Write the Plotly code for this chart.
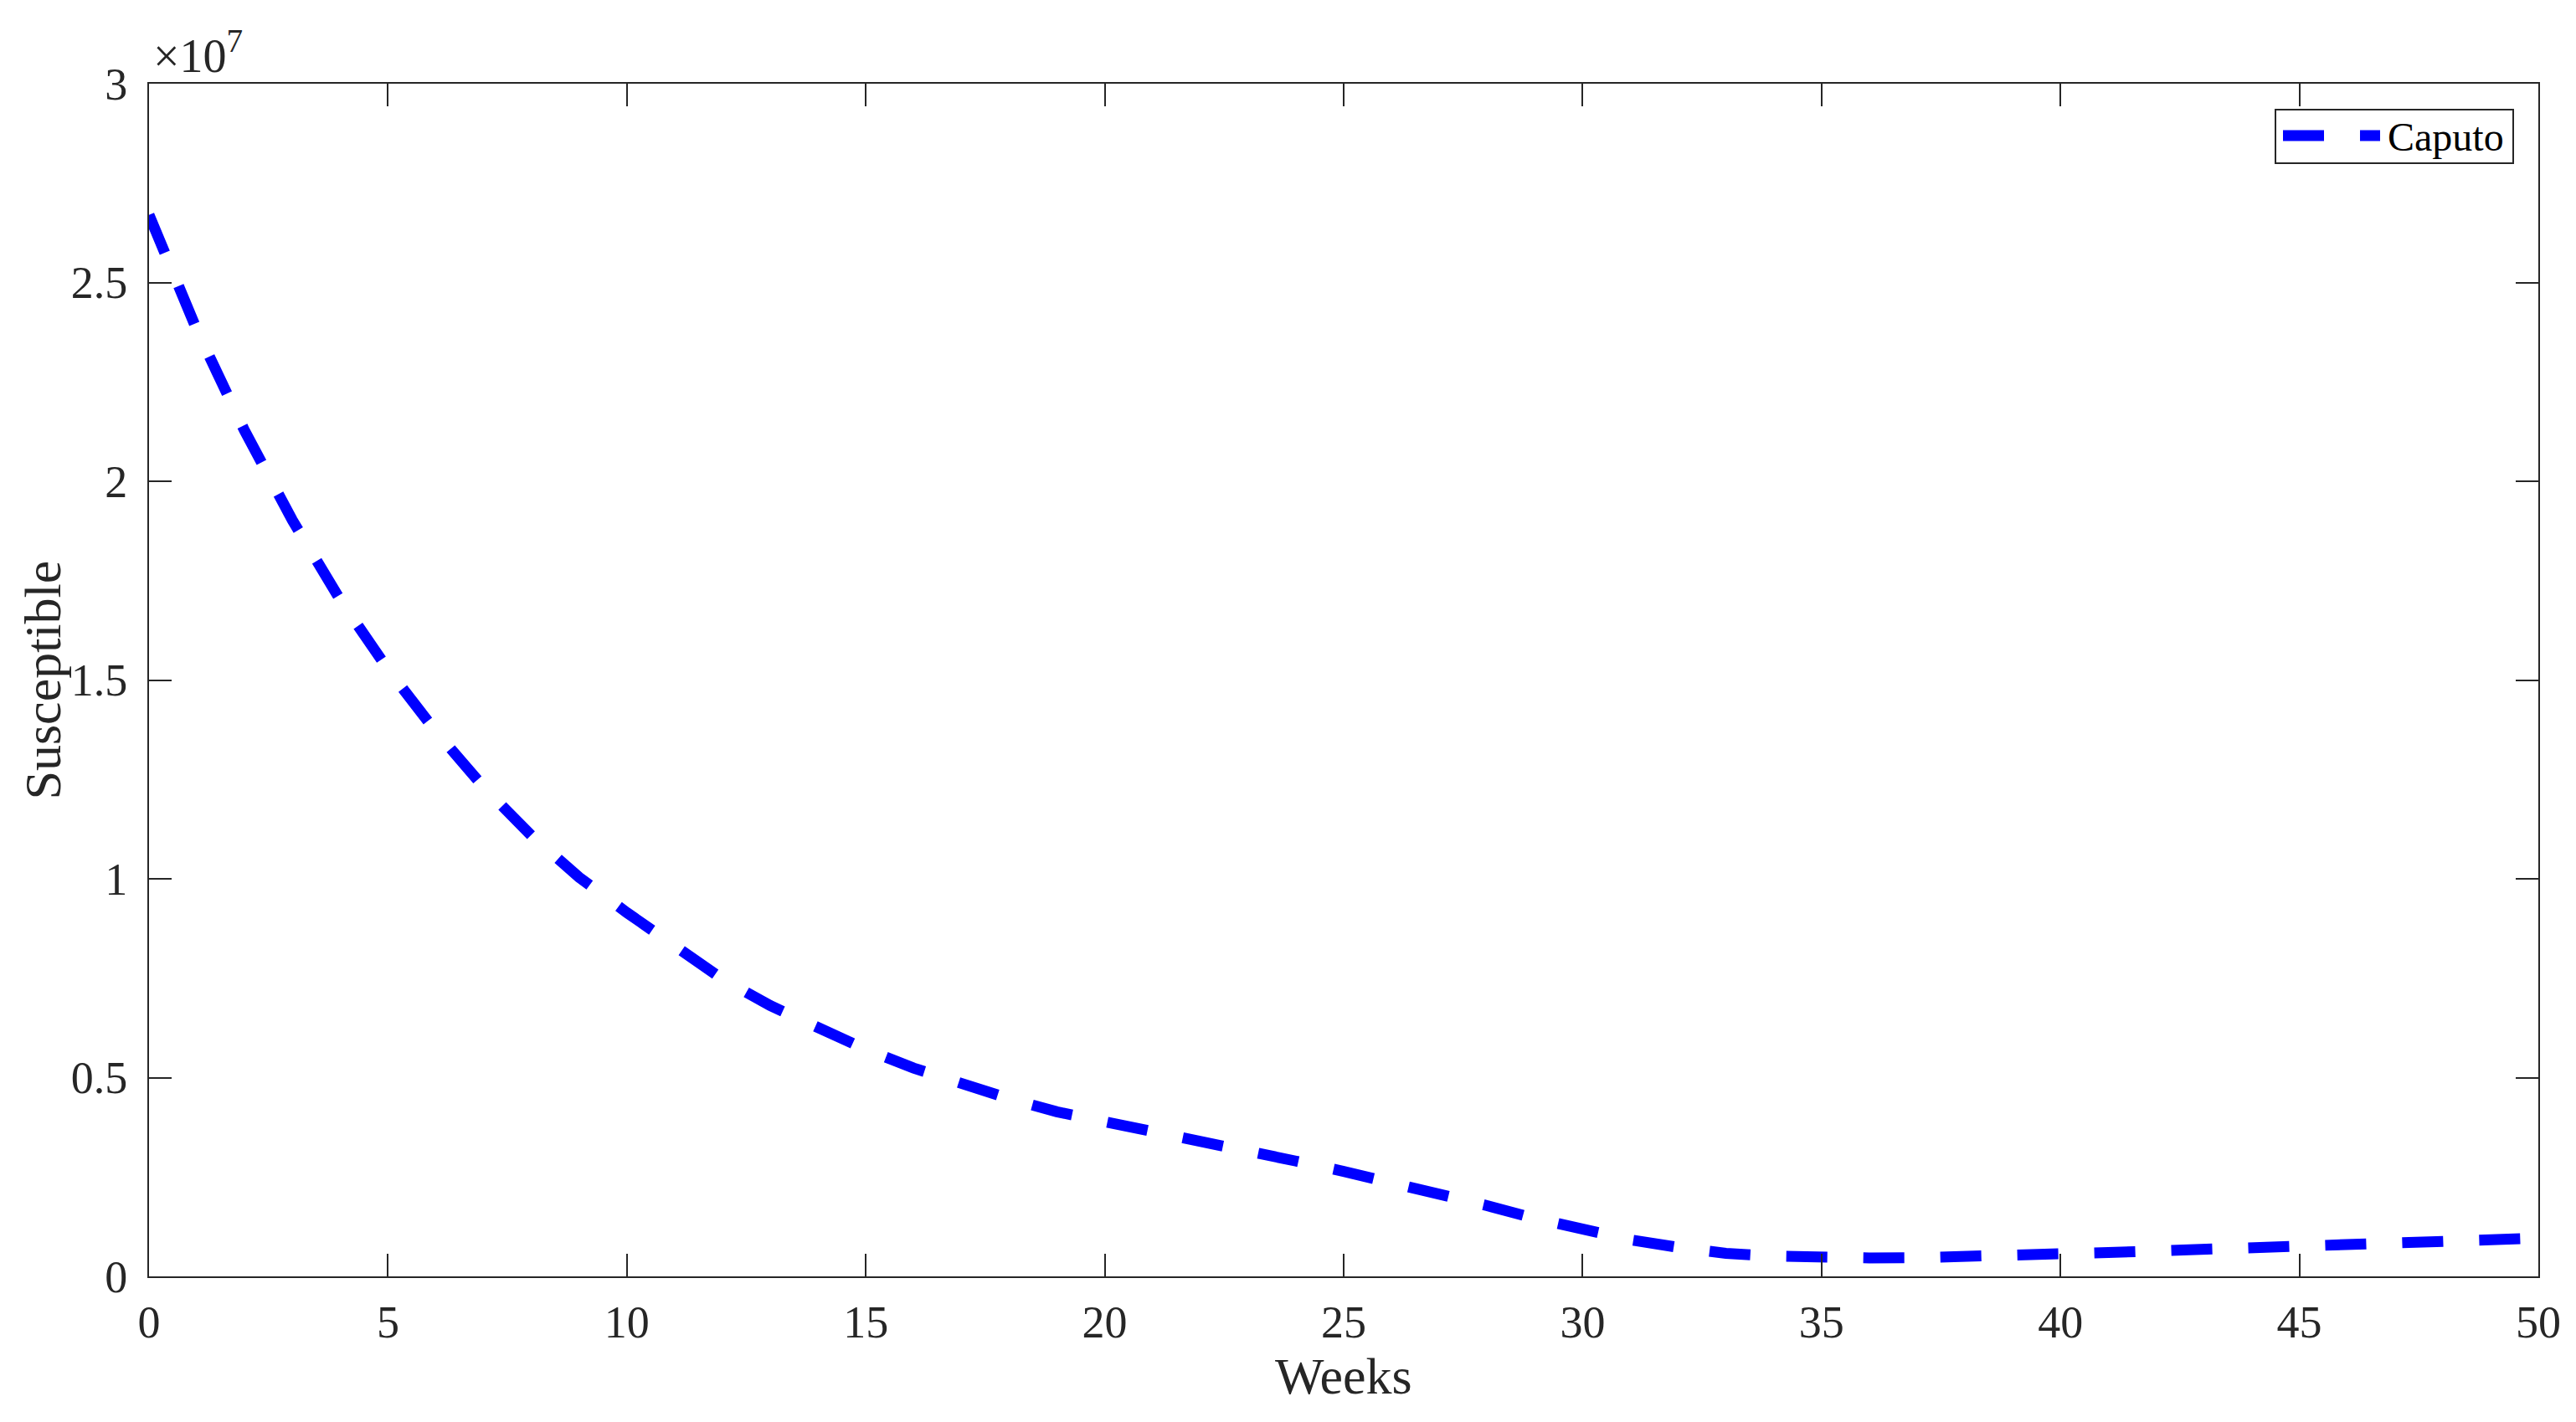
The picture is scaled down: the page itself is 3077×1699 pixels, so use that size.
import plotly.graph_objects as go

weeks = list(range(0, 51))
susceptible = [
    2.670e7, 2.381e7, 2.127e7, 1.902e7, 1.702e7, 1.527e7, 1.371e7, 1.231e7, 1.109e7, 1.004e7,
    9.15e6, 8.30e6, 7.48e6, 6.81e6, 6.23e6, 5.71e6, 5.24e6, 4.83e6, 4.47e6, 4.14e6,
    3.90e6, 3.67e6, 3.42e6, 3.17e6, 2.90e6, 2.64e6, 2.37e6, 2.10e6, 1.78e6, 1.46e6,
    1.16e6, 9.2e5, 7.3e5, 5.8e5, 5.1e5, 4.7e5, 4.65e5, 4.7e5, 4.9e5, 5.2e5,
    5.6e5, 6.0e5, 6.4e5, 6.8e5, 7.2e5, 7.6e5, 8.0e5, 8.4e5, 8.8e5, 9.2e5, 9.6e5,
]
series_name = "Caputo"
x_ticks = [0, 5, 10, 15, 20, 25, 30, 35, 40, 45, 50]
y_tickvals = [0, 5e6, 1e7, 1.5e7, 2e7, 2.5e7, 3e7]
y_ticktext = ["0", "0.5", "1", "1.5", "2", "2.5", "3"]
x_title = "Weeks"
y_title = "Susceptible"
exponent_text = "\u00d710<sup>7</sup>"

FONT = "Liberation Serif, Times New Roman, serif"
AX = "#262626"
BLUE = "#0000ff"
DASH = "49px,43px"

W, H = 3077, 1699
OFF = 8  # default page body margin shifts the figure by 8px
# target plot area on screen: x 178..3032, y 100..1525
L = 178 - OFF
T = 100 - OFF
R = W + OFF - 3032
B = H + OFF - 1525
PW, PH = W - L - R, H - T - B


def px_x(x):
    return (x - OFF - L) / PW


def px_y(y):
    return (H - B - (y - OFF)) / PH


fig = go.Figure()
fig.add_trace(go.Scatter(
    x=weeks, y=susceptible, mode="lines", name=series_name,
    line=dict(color=BLUE, width=13, dash=DASH), showlegend=False,
))

axis_common = dict(
    showline=True, linecolor=AX, linewidth=2, mirror="ticks",
    ticks="inside", ticklen=27, tickwidth=1.5, tickcolor=AX,
    showgrid=False, zeroline=False, automargin=False,
    tickfont=dict(family=FONT, size=54, color=AX),
)

shapes = [
    dict(type="rect", xref="paper", yref="paper",
         x0=px_x(2718), x1=px_x(3002), y0=px_y(195), y1=px_y(131),
         line=dict(color=AX, width=2), fillcolor="white", layer="above"),
    dict(type="line", xref="paper", yref="paper",
         x0=px_x(2727), x1=px_x(2843), y0=px_y(162), y1=px_y(162),
         line=dict(color=BLUE, width=13, dash=DASH), layer="above"),
]

annotations = [
    dict(text=exponent_text, xref="paper", yref="paper", x=px_x(181), y=px_y(100),
         xanchor="left", yanchor="bottom", showarrow=False,
         font=dict(family=FONT, size=56, color=AX)),
    dict(text=series_name, xref="paper", yref="paper", x=px_x(2850), y=px_y(163),
         xanchor="left", yanchor="middle", showarrow=False,
         font=dict(family=FONT, size=48, color="black")),
    dict(text=x_title, xref="paper", yref="paper", x=0.5, y=px_y(1680),
         xanchor="center", yanchor="bottom", showarrow=False,
         font=dict(family=FONT, size=62, color=AX)),
    dict(text=y_title, xref="paper", yref="paper", x=px_x(50), y=0.5,
         xanchor="center", yanchor="middle", showarrow=False, textangle=-90,
         font=dict(family=FONT, size=62, color=AX)),
]

fig.update_layout(
    width=W, height=H,
    margin=dict(l=L, r=R, t=T, b=B, autoexpand=False),
    paper_bgcolor="white", plot_bgcolor="white",
    xaxis=dict(range=[0, 50], tickvals=x_ticks, ticklabelstandoff=6, **axis_common),
    yaxis=dict(range=[0, 3e7], tickvals=y_tickvals, ticktext=y_ticktext,
               ticklabelstandoff=13, **axis_common),
    showlegend=False,
    shapes=shapes,
    annotations=annotations,
)

fig.write_html("out.html")
